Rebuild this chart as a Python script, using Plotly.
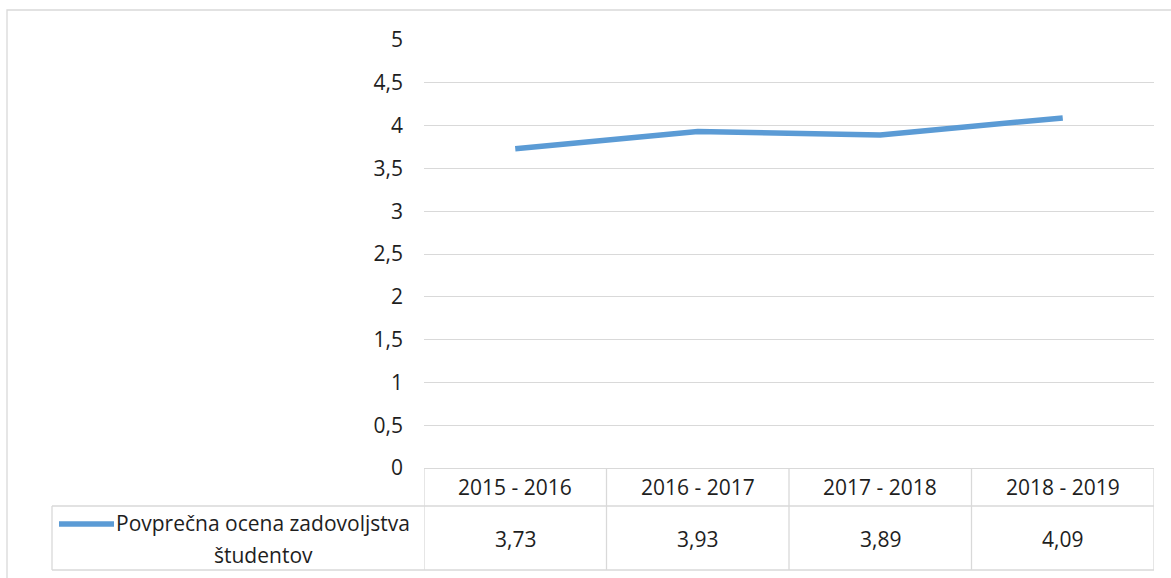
import plotly.graph_objects as go

categories = ["2015 - 2016", "2016 - 2017", "2017 - 2018", "2018 - 2019"]
values = [3.73, 3.93, 3.89, 4.09]
series_name = "Povprečna ocena zadovoljstva<br>študentov"
y_tick_vals = [0, 0.5, 1, 1.5, 2, 2.5, 3, 3.5, 4, 4.5, 5]
y_tick_text = ["0", "0,5", "1", "1,5", "2", "2,5", "3", "3,5", "4", "4,5", "5"]

W, H = 1171, 578
PL, PR, PT, PB = 424, 1154, 40, 468  # plot area in pixels
LINE_COLOR = "#5B9BD5"
GRID = "#d9d9d9"
TEXT = "#1e1e1e"
FONT = "Open Sans"
FS_TICK = 21
FS_TABLE = 21
FS_LABEL = 21


def px(x):
    return (x - PL) / (PR - PL)


def py(y):
    return (PB - y) / (PB - PT)


fig = go.Figure()
fig.add_trace(go.Scatter(
    x=categories, y=values, mode="lines",
    line=dict(color=LINE_COLOR, width=5.5),
    name=series_name.replace("<br>", " "), showlegend=False, hoverinfo="x+y",
))

shapes = []
line_style = dict(color=GRID, width=1.3)
# outer chart border
shapes.append(dict(type="rect", xref="paper", yref="paper",
                   x0=px(7), x1=px(1180), y0=py(10), y1=py(590),
                   line=dict(color=GRID, width=1.3), layer="below"))
# data table
row1_bottom, row2_bottom, left_edge = 506, 570, 52
shapes.append(dict(type="line", xref="paper", yref="paper",
                   x0=px(left_edge), x1=1, y0=py(row1_bottom), y1=py(row1_bottom), line=line_style))
shapes.append(dict(type="line", xref="paper", yref="paper",
                   x0=px(left_edge), x1=1, y0=py(row2_bottom), y1=py(row2_bottom), line=line_style))
shapes.append(dict(type="line", xref="paper", yref="paper",
                   x0=px(left_edge), x1=px(left_edge), y0=py(row1_bottom), y1=py(row2_bottom), line=line_style))
for i in range(len(categories) + 1):
    shapes.append(dict(type="line", xref="x", yref="paper",
                       x0=i - 0.5, x1=i - 0.5, y0=0, y1=py(row2_bottom), line=line_style))
# legend key
shapes.append(dict(type="line", xref="paper", yref="paper",
                   x0=px(59), x1=px(114), y0=py(524), y1=py(524),
                   line=dict(color=LINE_COLOR, width=5.5)))

annotations = []
for i, (c, v) in enumerate(zip(categories, values)):
    annotations.append(dict(x=i, y=py(487), xref="x", yref="paper",
                            text=c, showarrow=False, xanchor="center", yanchor="middle",
                            font=dict(family=FONT, size=FS_TABLE, color=TEXT)))
    annotations.append(dict(x=i, y=py(539), xref="x", yref="paper",
                            text=f"{v:.2f}".replace(".", ","), showarrow=False,
                            xanchor="center", yanchor="middle",
                            font=dict(family=FONT, size=FS_TABLE, color=TEXT)))
for line_text, yc in zip(series_name.split("<br>"), [523, 555]):
    annotations.append(dict(x=px(263), y=py(yc), xref="paper", yref="paper",
                            text=line_text, showarrow=False, xanchor="center", yanchor="middle",
                            font=dict(family=FONT, size=FS_LABEL, color=TEXT)))

fig.update_layout(
    width=W, height=H,
    margin=dict(l=PL, r=W - PR, t=PT, b=H - PB),
    paper_bgcolor="white", plot_bgcolor="white",
    font=dict(family=FONT, size=FS_TICK, color=TEXT),
    xaxis=dict(type="category", range=[-0.5, len(categories) - 0.5],
               showticklabels=False, showgrid=False, zeroline=False,
               showline=True, linecolor=GRID, linewidth=1.3, fixedrange=True),
    yaxis=dict(range=[0, 5], tickvals=y_tick_vals, ticktext=y_tick_text,
               showgrid=True, gridcolor=GRID, gridwidth=1.3, zeroline=False,
               showline=False, ticks="", ticklabelstandoff=20,
               tickfont=dict(family=FONT, size=FS_TICK, color=TEXT), fixedrange=True),
    shapes=shapes, annotations=annotations, showlegend=False,
)

fig.write_html("out.html", config={"displayModeBar": False},
               post_script="document.body.style.margin='0px';")
